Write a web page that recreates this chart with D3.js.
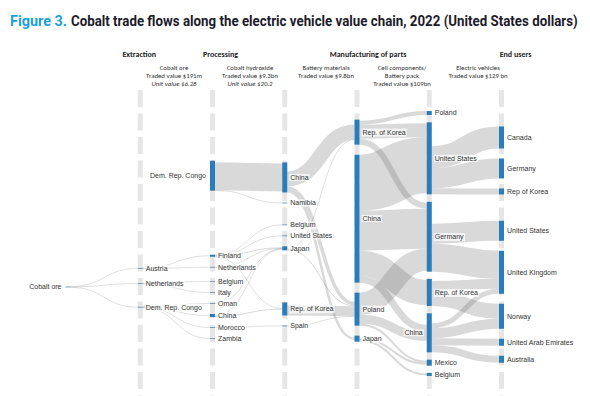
<!DOCTYPE html>
<html>
<head>
<meta charset="utf-8">
<script src="https://cdn.jsdelivr.net/npm/d3@7"></script>
<style>
  body { margin: 0; background: #fff; }
  text { font-family: "Liberation Sans", Arial, sans-serif; }
</style>
</head>
<body>
<svg id="chart" width="590" height="396"></svg>
<script>
// ---- data ----
const titleLead = "Figure 3.";
const titleRest = "Cobalt trade flows along the electric vehicle value chain, 2022 (United States dollars)";

const stageNames = ["Extraction", "Processing", "Manufacturing of parts", "End users"];

const productLines = [
	["Cobalt ore", "Traded value $191m", "Unit value $6.28"],
	["Cobalt hydroxide", "Traded value $9.3bn", "Unit value $20.2"],
	["Battery materials", "Traded value $9.8bn"],
	["Cell components/", "Battery pack", "Traded value $109bn"],
	["Electric vehicles", "Traded value $129 bn"]
];

// nodes per column, sizes in relative width units
const originNames = ["Cobalt ore"];
const originSize = [1];
const minerNames = ["Austria", "Netherlands", "Dem. Rep. Congo"];
const minerSize = [1, 1, 1];
const processorNames = ["Dem. Rep. Congo", "Finland", "Netherlands", "Belgium", "Italy", "Oman", "China", "Morocco", "Zambia"];
const processorSize = [30, 2, 1, 1, 1, 1, 3, 1, 1];
const materialNames = ["China", "Namibia", "Belgium", "United States", "Japan", "Rep. of Korea", "Spain"];
const materialSize = [30, 1, 1, 1, 4, 13, 1];
const cellNames = ["Rep. of Korea", "China", "Poland", "Japan"];
const cellSize = [25, 128, 33, 6];
const packNames = ["Poland", "United States", "Germany", "Rep. of Korea", "China", "Mexico", "Belgium"];
const packSize = [4, 72, 70, 27, 39, 6, 3];
const buyerNames = ["Canada", "Germany", "Rep of Korea", "United States", "United Kingdom", "Norway", "United Arab Emirates", "Australia"];
const buyerSize = [22, 20, 6, 20, 43, 25, 7, 7];

// flows between neighbouring columns: [from, to, value]
const originLinks = [
	["Cobalt ore", "Austria", 0.4],
	["Cobalt ore", "Netherlands", 0.4],
	["Cobalt ore", "Dem. Rep. Congo", 0.6]
];
const oreLinks = [
	["Austria", "Finland", 0.4],
	["Austria", "Netherlands", 0.3],
	["Netherlands", "Belgium", 0.3],
	["Netherlands", "Italy", 0.3],
	["Dem. Rep. Congo", "Oman", 0.2],
	["Dem. Rep. Congo", "China", 0.5],
	["Dem. Rep. Congo", "Morocco", 0.3],
	["Dem. Rep. Congo", "Zambia", 0.3]
];
const hydroxideLinks = [
	["Dem. Rep. Congo", "China", 28],
	["Dem. Rep. Congo", "Namibia", 0.4],
	["Finland", "Belgium", 0.4],
	["Finland", "United States", 0.4],
	["Finland", "Japan", 1],
	["Finland", "Rep. of Korea", 0.5],
	["Netherlands", "Japan", 0.3],
	["Oman", "Japan", 0.3],
	["China", "Japan", 0.5],
	["China", "Rep. of Korea", 1],
	["Morocco", "Spain", 0.4]
];
const materialLinks = [
	["China", "Rep. of Korea", 15],
	["China", "Poland", 3.5],
	["China", "Japan", 2.5],
	["Japan", "Rep. of Korea", 0.5],
	["Japan", "Poland", 1],
	["Rep. of Korea", "Poland", 10],
	["Spain", "Poland", 0.4]
];
const cellLinks = [
	["Rep. of Korea", "Poland", 4],
	["Rep. of Korea", "United States", 14],
	["Rep. of Korea", "Germany", 6],
	["China", "United States", 56],
	["China", "Germany", 40],
	["China", "Rep. of Korea", 25],
	["China", "China", 7],
	["Poland", "Germany", 22],
	["Poland", "China", 9],
	["Poland", "Mexico", 2],
	["Japan", "Mexico", 2],
	["Japan", "Belgium", 2]
];
const vehicleLinks = [
	["United States", "Canada", 22],
	["United States", "Germany", 20],
	["United States", "Rep of Korea", 6],
	["Germany", "United States", 20],
	["Germany", "United Kingdom", 28],
	["Rep. of Korea", "United Kingdom", 10],
	["Rep. of Korea", "Norway", 15],
	["China", "United Kingdom", 5],
	["China", "Norway", 10],
	["China", "United Arab Emirates", 7],
	["China", "Australia", 7]
];

// ---- build graph ----
const columns = [
	[originNames, originSize], [minerNames, minerSize], [processorNames, processorSize],
	[materialNames, materialSize], [cellNames, cellSize], [packNames, packSize], [buyerNames, buyerSize]
];
const stageLinks = [originLinks, oreLinks, hydroxideLinks, materialLinks, cellLinks, vehicleLinks];

const svg = d3.select('#chart');
const colX = d3.scalePoint().domain(d3.range(7)).range([68, 501.5]);
const width_of = d3.scaleLinear().domain([0, 100]).range([0, 100]);
const nodeW = 5, pad = 10, yTop = 111, yBottom = 376, bigSize = 4;

const nodes = [];
const byId = {};
const cols = columns.map(([names, sizes], c) => names.map((name, i) => {
	const n = {id: c + ":" + name, name: name, col: c, size: sizes[i], in: [], out: []};
	n.h = Math.max(1, width_of(n.size));
	n.big = n.size >= bigSize;
	n.x0 = colX(c) - nodeW / 2;
	n.x1 = n.x0 + nodeW;
	nodes.push(n);
	byId[n.id] = n;
	return n;
}));
// a crowded column gets a tighter gap; the biggest node wins collisions
cols.forEach(col => {
	const free = yBottom - yTop - d3.sum(col, n => n.h);
	col.pad = col.length > 1 ? Math.min(pad, free / (col.length - 1)) : pad;
	col.main = d3.maxIndex(col, n => n.h);
});

const links = [];
stageLinks.forEach((arr, c) => arr.forEach(([s, t, v]) => {
	const l = {source: byId[c + ":" + s], target: byId[(c + 1) + ":" + t], value: v};
	l.w = width_of(v);
	l.source.out.push(l);
	l.target.in.push(l);
	links.push(l);
}));

// ---- small sankey-style layout (fixed order, relaxation) ----
// outgoing flows sit at the bottom of a node, incoming ones are centred
function placeLinks() {
	nodes.forEach(n => {
		n.out.sort((a, b) => a.target.y0 - b.target.y0);
		n.in.sort((a, b) => a.source.y0 - b.source.y0);
		let y = n.y0 + Math.max(0, n.h - d3.sum(n.out, l => l.w));
		if (n.h < 2) y = n.y0 + (n.h - d3.sum(n.out, l => l.w)) / 2;
		n.out.forEach(l => { l.sy = y + l.w / 2; y += l.w; });
		y = n.y0 + (n.h - d3.sum(n.in, l => l.w)) / 2;
		n.in.forEach(l => { l.ty = y + l.w / 2; y += l.w; });
	});
}

cols.forEach(col => {
	let y = yTop;
	col.forEach(n => { n.y0 = y; n.y1 = y + n.h; y = n.y1 + col.pad; });
	const dy = (yBottom - y + col.pad) / (col.length + 1);
	col.forEach((n, i) => { n.y0 += dy * (i + 1); n.y1 += dy * (i + 1); });
});
placeLinks();

const shift = (n, d) => { n.y0 += d; n.y1 += d; };
// room that the nodes strictly between a and b need
const spacing = (col, a, b) => d3.sum(col.slice(a + 1, b), n => n.h + col.pad) + col.pad;

// big nodes are spaced among themselves first, small ones squeeze in between
function resolve(col, alpha) {
	const idx = col.map((n, i) => i).filter(i => col[i].big);
	const m = idx.indexOf(col.main);
	for (let k = m - 1; k >= 0; k--) {
		const n = col[idx[k]], lim = col[idx[k + 1]].y0 - spacing(col, idx[k], idx[k + 1]);
		const d = (n.y1 - lim) * alpha; if (d > 1e-6) shift(n, -d);
	}
	for (let k = m + 1; k < idx.length; k++) {
		const n = col[idx[k]], lim = col[idx[k - 1]].y1 + spacing(col, idx[k - 1], idx[k]);
		const d = (lim - n.y0) * alpha; if (d > 1e-6) shift(n, d);
	}
	for (let k = idx.length - 1; k >= 0; k--) {
		const n = col[idx[k]];
		const lim = k === idx.length - 1
			? yBottom - d3.sum(col.slice(idx[k] + 1), t => t.h + col.pad)
			: col[idx[k + 1]].y0 - spacing(col, idx[k], idx[k + 1]);
		const d = (n.y1 - lim) * alpha; if (d > 1e-6) shift(n, -d);
	}
	for (let k = 0; k < idx.length; k++) {
		const n = col[idx[k]];
		const lim = k === 0
			? yTop + d3.sum(col.slice(0, idx[0]), t => t.h + col.pad)
			: col[idx[k - 1]].y1 + spacing(col, idx[k - 1], idx[k]);
		const d = (lim - n.y0) * alpha; if (d > 1e-6) shift(n, d);
	}
	const bounds = [-1, ...idx, col.length];
	for (let k = 0; k < bounds.length - 1; k++) {
		const a = bounds[k], b = bounds[k + 1];
		if (b - a < 2) continue;
		let y = a < 0 ? yTop : col[a].y1 + col.pad;
		for (let i = a + 1; i < b; i++) {
			const n = col[i], d = (y - n.y0) * alpha;
			if (d > 1e-6) shift(n, d);
			y = n.y1 + col.pad;
		}
		y = b >= col.length ? yBottom : col[b].y0 - col.pad;
		for (let i = b - 1; i > a; i--) {
			const n = col[i], d = (n.y1 - y) * alpha;
			if (d > 1e-6) shift(n, -d);
			y = n.y0 - col.pad;
		}
	}
}
// each node drifts toward the value-weighted spot where its flows run level;
// big nodes only listen to big neighbours, small ones follow everything
function relax(order, alpha, beta) {
	order.forEach(c => {
		cols[c].forEach(n => {
			const keep = l => !n.big || (l.source === n ? l.target.big : l.source.big);
			let ins = n.in.filter(keep), outs = n.out.filter(keep);
			if (!ins.length && !outs.length) { ins = n.in; outs = n.out; }
			let ys = 0, ws = 0;
			ins.forEach(l => { ys += (l.sy - (l.ty - n.y0)) * l.value; ws += l.value; });
			outs.forEach(l => { ys += (l.ty - (l.sy - n.y0)) * l.value; ws += l.value; });
			if (!ws) return;
			shift(n, (ys / ws - n.y0) * alpha);
		});
		resolve(cols[c], beta);
		placeLinks();
	});
}
const iterations = 40;
const forward = d3.range(cols.length), backward = forward.slice().reverse();
for (let i = 0; i < iterations; i++) {
	const alpha = Math.pow(0.99, i);
	const beta = Math.max(1 - alpha, (i + 1) / iterations);
	relax(backward, alpha, beta);
	relax(forward, alpha, beta);
}
placeLinks();

// ---- title (squeezed horizontally like a condensed face) ----
function fitText(sel, width) {
	const natural = sel.node().getComputedTextLength();
	const x = +sel.attr('x');
	sel.attr('transform', `translate(${x},0) scale(${width / natural},1) translate(${-x},0)`);
}
const lead = svg.append('text')
	.attr('x', 10).attr('y', 26)
	.style('font-family', 'Roboto, sans-serif').style('font-weight', 700).style('font-size', '15.5px')
	.attr('fill', '#1b9fd9')
	.text(titleLead);
fitText(lead, 57);
const rest = svg.append('text')
	.attr('x', 71).attr('y', 26)
	.style('font-family', 'Roboto, sans-serif').style('font-weight', 700).style('font-size', '15.5px')
	.attr('fill', '#1c1c2a')
	.text(titleRest);
fitText(rest, 507);

// ---- headers ----
const stageX = [colX(1) - 1, colX(2) + 8, (colX(3) + colX(5)) / 2 + 11, colX(6) + 14];
svg.append('g').selectAll('text')
	.data(stageNames)
	.enter().append('text')
	.attr('x', (d, i) => stageX[i])
	.attr('y', 57)
	.attr('text-anchor', 'middle')
	.style('font-family', 'Carlito, Lato, sans-serif').style('font-weight', 700).style('font-size', '8px')
	.attr('fill', '#222')
	.text(d => d);

const productX = d3.scalePoint().domain(d3.range(productLines.length)).range([174, 478]);
productLines.forEach((lines, i) => {
	svg.append('g').selectAll('text')
		.data(lines)
		.enter().append('text')
		.attr('x', productX(i))
		.attr('y', (d, j) => 69.5 + j * 8.3)
		.attr('text-anchor', 'middle')
		.style('font-family', 'Carlito, Lato, sans-serif').style('font-size', '6.8px')
		.style('font-style', d => d.startsWith('Unit') ? 'italic' : 'normal')
		.attr('fill', '#333')
		.text(d => d);
});

// ---- dashed column guides ----
svg.append('g').selectAll('line')
	.data(d3.range(1, 7))
	.enter().append('line')
	.attr('x1', d => colX(d)).attr('x2', d => colX(d))
	.attr('y1', 90).attr('y2', 396)
	.attr('stroke', '#e6e6e6')
	.attr('stroke-width', nodeW)
	.attr('stroke-dasharray', '17,6.5');

// ---- flows ----
const linkPath = d3.linkHorizontal()
	.source(l => [l.source.x1, l.sy])
	.target(l => [l.target.x0, l.ty]);
svg.append('g').selectAll('path')
	.data(links)
	.enter().append('path')
	.attr('d', linkPath)
	.attr('fill', 'none')
	.attr('stroke', '#666')
	.attr('stroke-opacity', 0.25)
	.attr('stroke-width', l => Math.max(0.8, l.w));

// ---- nodes ----
svg.append('g').selectAll('rect')
	.data(nodes)
	.enter().append('rect')
	.attr('x', n => n.x0)
	.attr('y', n => n.y0)
	.attr('width', nodeW)
	.attr('height', n => n.h)
	.attr('fill', n => n.size > 1 ? '#2a7db8' : '#7d9cb5');

// ---- labels ----
const onLeft = n => n.col === 0 || (n.col === 2 && n.name === "Dem. Rep. Congo") || (n.col === 5 && n.name === "China");
const lab = svg.append('g').selectAll('g')
	.data(nodes)
	.enter().append('g');
lab.append('text')
	.attr('x', n => onLeft(n) ? n.x0 - 4 : n.x1 + 3)
	.attr('y', n => (n.y0 + n.y1) / 2)
	.attr('dy', '0.35em')
	.attr('text-anchor', n => onLeft(n) ? 'end' : 'start')
	.style('font-size', '7px')
	.attr('fill', '#333')
	.text(n => n.name);
lab.each(function () {
	const g = d3.select(this);
	const b = g.select('text').node().getBBox();
	g.insert('rect', 'text')
		.attr('x', b.x - 1).attr('y', b.y)
		.attr('width', b.width + 2).attr('height', b.height)
		.attr('fill', '#fff').attr('fill-opacity', 0.7);
});
</script>
</body>
</html>
